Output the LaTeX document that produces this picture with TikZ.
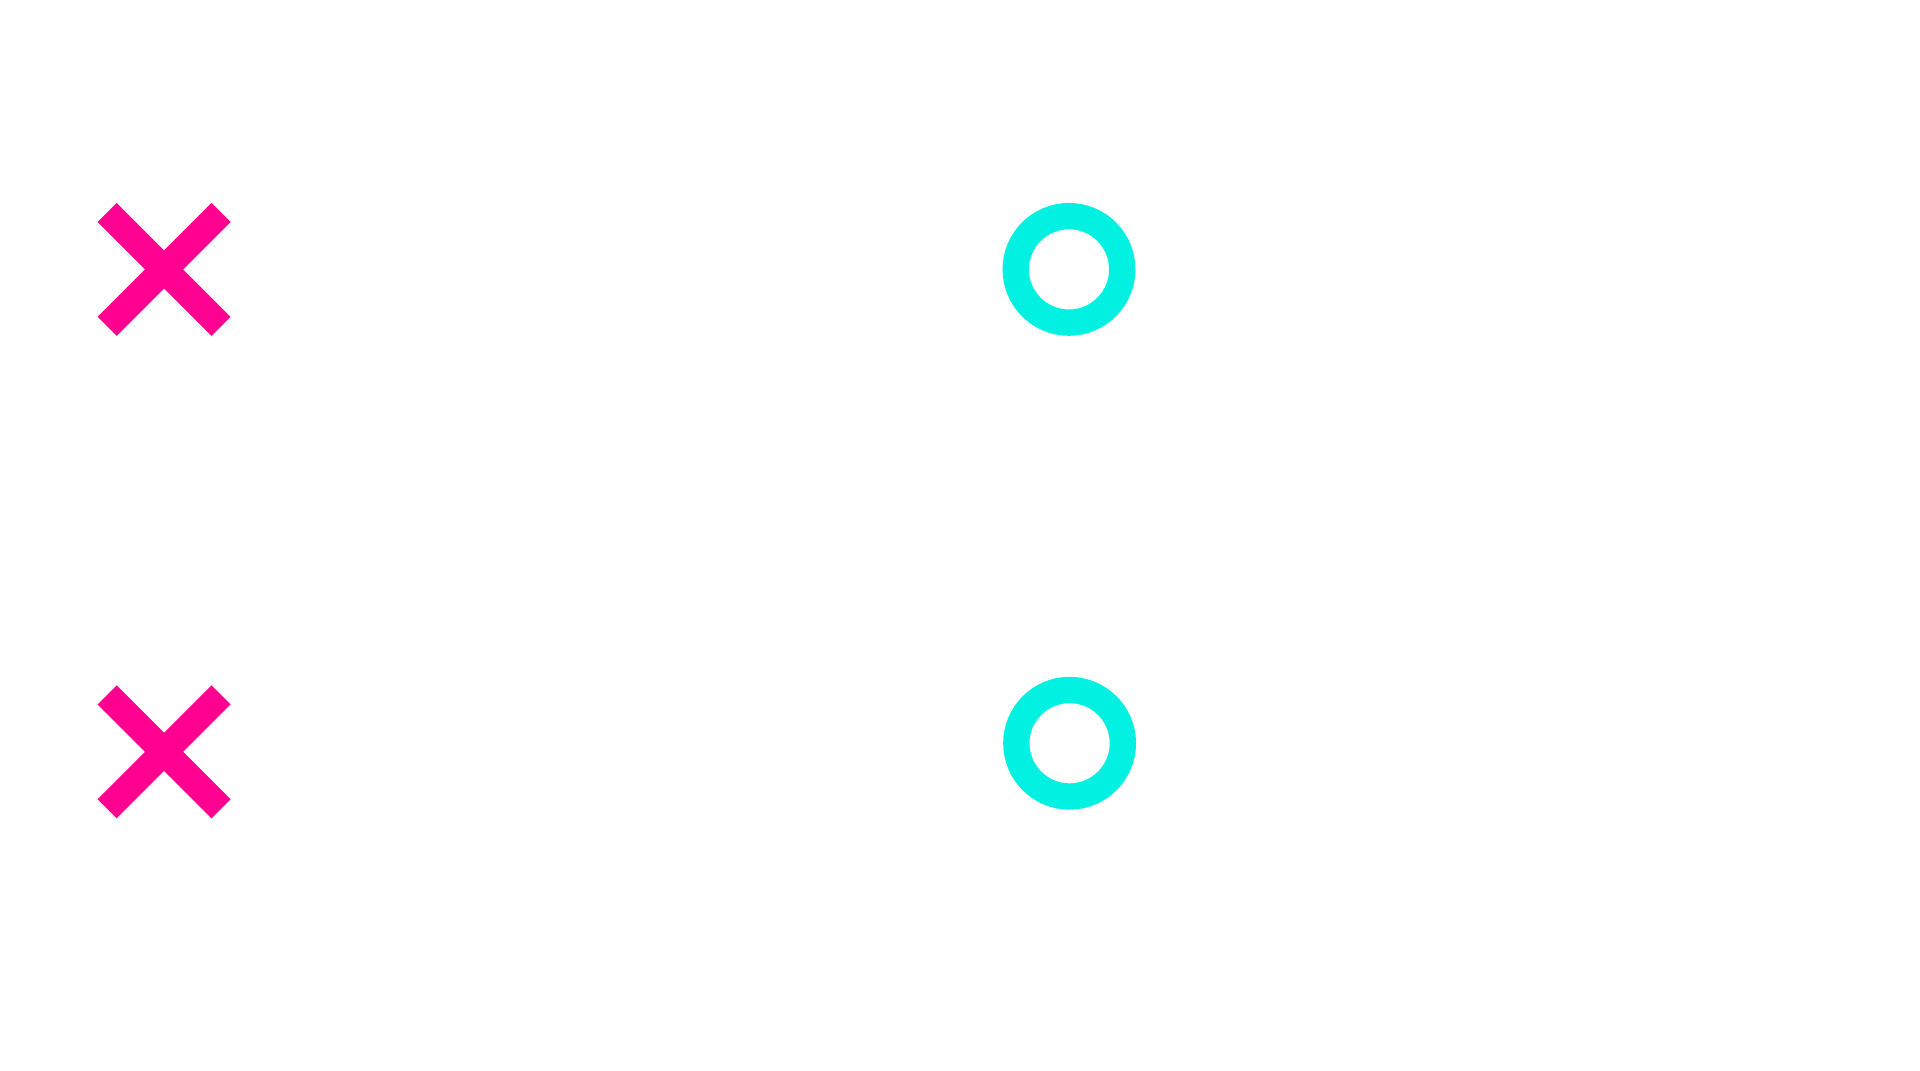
\documentclass[tikz,border=0pt]{standalone}
\usepackage{tikz}
\definecolor{crossmag}{HTML}{FF0090}
\definecolor{ringcyan}{HTML}{00F0E2}
\tikzset{
  cross/.style={draw=crossmag, line width=0.44cm, line cap=butt},
  ring/.style={draw=ringcyan, line width=0.43cm}
}
\begin{document}
\begin{tikzpicture}[x=0.02cm, y=-0.02cm]
  \useasboundingbox[fill=white] (0,0) rectangle (1568,874);
  % crosses
  \foreach \cy in {220,614} {
    \draw[cross] (87.5,\cy-46.5) -- (180.5,\cy+46.5);
    \draw[cross] (87.5,\cy+46.5) -- (180.5,\cy-46.5);
  }
  % rings
  \draw[ring] (873,220) circle[radius=43.5];
  \draw[ring] (873.5,607) circle[radius=43.5];
\end{tikzpicture}
\end{document}
